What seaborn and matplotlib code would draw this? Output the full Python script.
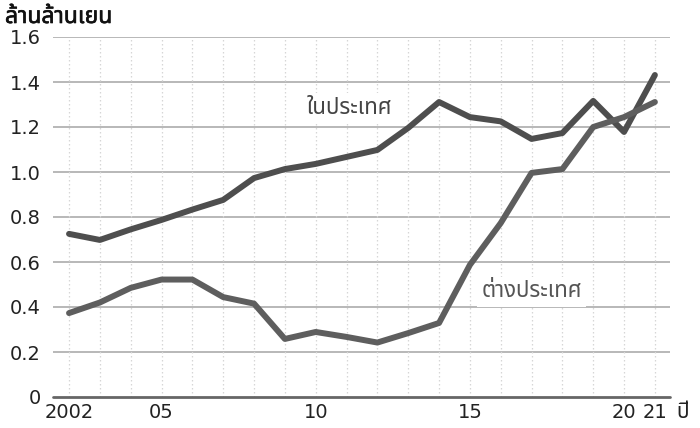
import matplotlib
matplotlib.use("Agg")
import matplotlib.pyplot as plt
import matplotlib.patheffects as pe
import seaborn as sns
import pandas as pd
from matplotlib import font_manager
from matplotlib.ft2font import FT2Font

years = list(range(2002, 2022))
domestic = [0.725, 0.698, 0.745, 0.787, 0.833, 0.876, 0.973, 1.013, 1.036, 1.067,
            1.098, 1.196, 1.311, 1.244, 1.225, 1.147, 1.173, 1.316, 1.178, 1.431]
overseas = [0.373, 0.420, 0.485, 0.522, 0.522, 0.444, 0.415, 0.258, 0.289, 0.267,
            0.242, 0.284, 0.329, 0.587, 0.773, 0.996, 1.013, 1.200, 1.244, 1.311]
series_names = ["ในประเทศ", "ต่างประเทศ"]
y_ticks = [0, 0.2, 0.4, 0.6, 0.8, 1.0, 1.2, 1.4, 1.6]
y_tick_labels = ["0", "0.2", "0.4", "0.6", "0.8", "1.0", "1.2", "1.4", "1.6"]
x_ticks = [2002, 2005, 2010, 2015, 2020, 2021]
x_tick_labels = ["2002", "05", "10", "15", "20", "21"]
unit_label = "ล้านล้านเยน"
x_unit = "ปี"


def thai_capable_family():
    names = []
    for f in font_manager.fontManager.ttflist:
        try:
            if 0x0E01 in FT2Font(f.fname).get_charmap():
                names.append(f.name)
        except Exception:
            pass
    for pref in ["Noto Sans Thai", "Noto Sans", "Tahoma", "Loma", "Garuda"]:
        if pref in names:
            return pref
    return names[0] if names else "DejaVu Sans"


sns.set_theme(style="white")
thai = thai_capable_family()
plt.rcParams["font.family"] = [thai, "DejaVu Sans"]
digits_family = ["DejaVu Sans", thai]

df = pd.DataFrame({
    "year": years * 2,
    "value": domestic + overseas,
    "series": [series_names[0]] * len(years) + [series_names[1]] * len(years),
})

fig = plt.figure(figsize=(7.0, 4.28), dpi=100)
ax = fig.add_axes([53 / 700, 1 - 397 / 428, (670 - 53) / 700, (397 - 37) / 428])

# grid: solid horizontal, dotted vertical
for yv in y_ticks[1:]:
    ax.axhline(yv, color="#a4a4a4", lw=1.1, zorder=1)
for xv in years:
    ax.axvline(xv, color="#d6d6d6", lw=0.9, ls=(0, (1.2, 2)), zorder=1)

sns.lineplot(data=df, x="year", y="value", hue="series",
             palette={series_names[0]: "#4e4e4e", series_names[1]: "#5e5e5e"},
             linewidth=4.3, legend=False, ax=ax, zorder=3)

ax.axhline(0, color="#666666", lw=2.0, zorder=4, clip_on=False)

ax.set_xlim(2001.48, 2021.49)
ax.set_ylim(0, 1.6)
ax.set_xticks(x_ticks)
ax.set_xticklabels(x_tick_labels, family=digits_family)
ax.set_yticks(y_ticks)
ax.set_yticklabels(y_tick_labels, family=digits_family)
ax.tick_params(axis="both", length=0, labelsize=14, labelcolor="#222222")
ax.tick_params(axis="y", pad=9)
ax.tick_params(axis="x", pad=4)
for s in ax.spines.values():
    s.set_visible(False)
ax.set_xlabel("")
ax.set_ylabel("")

box = dict(facecolor="white", edgecolor="none", pad=3)
ax.text(2011.08, 1.284, series_names[0], fontsize=16, color="#444444",
        ha="center", va="center", bbox=box, zorder=2)
ax.text(2017.01, 0.467, series_names[1], fontsize=16, color="#555555",
        ha="center", va="center", bbox=box, zorder=2)

fig.text(5 / 700, 1 - 17 / 428, unit_label, fontsize=16.5, color="#111111",
         ha="left", va="center",
         path_effects=[pe.withStroke(linewidth=0.45, foreground="#111111")])
fig.text(676 / 700, 1 - 412 / 428, x_unit, fontsize=15, color="#222222",
         ha="left", va="center")

fig.savefig("out.png", dpi=100, facecolor="white")
